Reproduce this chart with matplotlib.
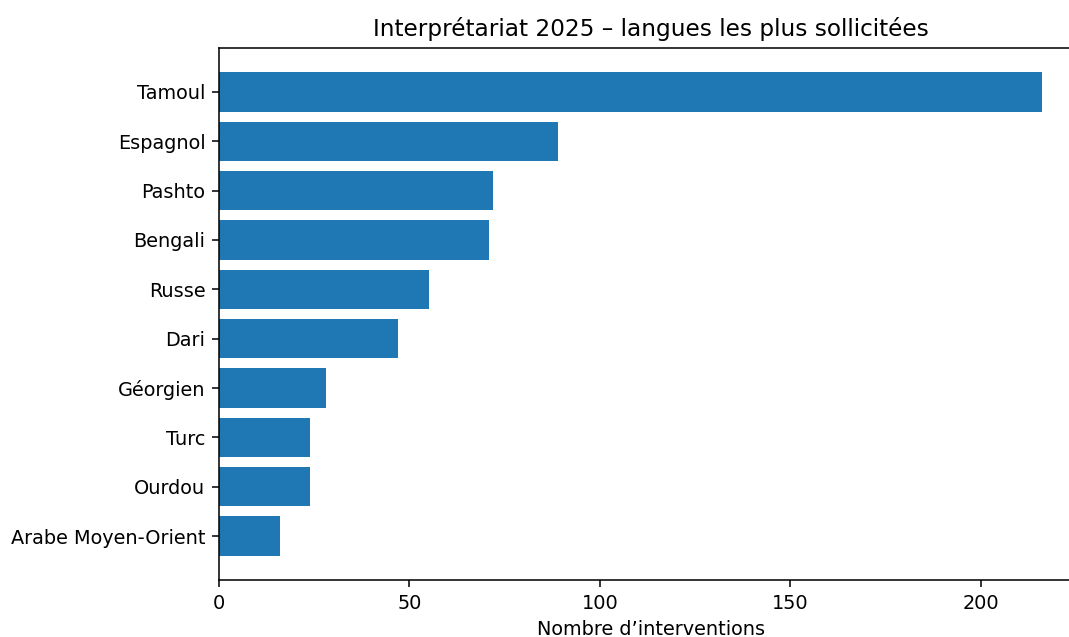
import matplotlib
matplotlib.use("Agg")
import matplotlib.pyplot as plt

langues = ["Tamoul", "Espagnol", "Pashto", "Bengali", "Russe", "Dari",
           "Géorgien", "Turc", "Ourdou", "Arabe Moyen-Orient"]
interventions = [216, 89, 72, 71, 55, 47, 28, 24, 24, 16]

DPI = 139
W, H = 1069, 637
fig = plt.figure(figsize=(W / DPI, H / DPI), dpi=DPI)
ax = fig.add_axes([219 / W, (H - 580) / H, (1083 - 219) / W, (580 - 48) / H])

ax.barh(langues[::-1], interventions[::-1], color="#1f77b4")
ax.set_xticks([0, 50, 100, 150, 200])
ax.set_xlabel("Nombre d’interventions")
ax.set_title("Interprétariat 2025 – langues les plus sollicitées")

fig.savefig("out.png", dpi=DPI)
